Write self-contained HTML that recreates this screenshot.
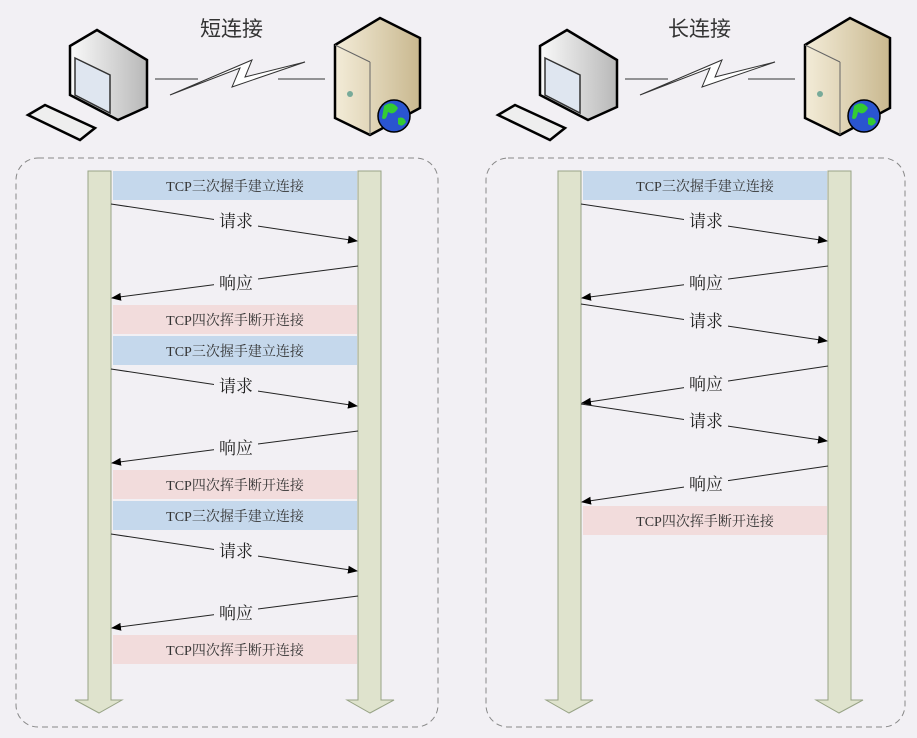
<!DOCTYPE html>
<html><head><meta charset="utf-8"><style>
body{margin:0;background:#f2f0f4;}
svg{display:block}
text{font-family:"Liberation Serif","Noto Serif CJK SC",serif;}
.t{font-family:"Liberation Sans","Noto Sans CJK SC",sans-serif;}
</style></head><body>
<svg width="917" height="738" viewBox="0 0 917 738">
<defs>
<marker id="ar" markerWidth="10" markerHeight="8" refX="9" refY="4" orient="auto" markerUnits="userSpaceOnUse"><path d="M0,0 L10,4 L0,8 z" fill="#000"/></marker>
<linearGradient id="sv" x1="0" x2="1"><stop offset="0" stop-color="#f3ecd8"/><stop offset="1" stop-color="#c9b88f"/></linearGradient>
<linearGradient id="pc" x1="0" x2="1"><stop offset="0" stop-color="#fafafa"/><stop offset="1" stop-color="#b8b8b8"/></linearGradient>
<g id="icons">
 <!-- computer -->
 <path d="M70,46 L97,30 L147,60 L147,107 L118,120 L70,95 Z" fill="url(#pc)" stroke="#000" stroke-width="2.5"/>
 <path d="M75,58 L110,75 L110,113 L75,95 Z" fill="#dfe6f0" stroke="#333" stroke-width="1.5"/>
 <path d="M28,115 L45,105 L95,128 L80,140 Z" fill="#eee" stroke="#000" stroke-width="2.5"/>
 <line x1="155" y1="79" x2="198" y2="79" stroke="#333" stroke-width="1"/>
 <path d="M170,95 L240,68 L232,87 L305,62 L245,77 L252,60 Z" fill="#fff" stroke="#333" stroke-width="1"/>
 <line x1="278" y1="79" x2="325" y2="79" stroke="#333" stroke-width="1"/>
 <!-- server -->
 <path d="M335,45 L380,18 L420,38 L420,108 L370,135 L335,118 Z" fill="url(#sv)" stroke="#000" stroke-width="2.5"/>
 <line x1="370" y1="62" x2="370" y2="135" stroke="#666" stroke-width="1"/>
 <line x1="370" y1="62" x2="335" y2="45" stroke="#666" stroke-width="1"/>
 <circle cx="350" cy="94" r="3" fill="#7a9" />
 <circle cx="394" cy="116" r="16" fill="#2a55d0" stroke="#000" stroke-width="1.5"/>
 <path d="M384,106 q8,-6 14,2 q-4,8 -10,4 q-2,10 -6,6z M398,118 q6,-2 8,4 q-4,6 -8,2z" fill="#3c3"/>
</g>
</defs>

<text x="200" y="36" class="t" font-size="21" fill="#333">短连接</text>
<text x="668" y="36" class="t" font-size="21" fill="#333">长连接</text>
<use href="#icons"/>
<use href="#icons" transform="translate(470,0)"/>

<rect x="16" y="158" width="422" height="569" rx="22" fill="none" stroke="#888" stroke-dasharray="6,4" stroke-width="1"/>
<rect x="486" y="158" width="419" height="569" rx="22" fill="none" stroke="#888" stroke-dasharray="6,4" stroke-width="1"/>

<g fill="#dfe3cd" stroke="#98a386" stroke-width="1">
<path d="M88,171 H111 V700 H122 L99,713 L75,700 H88 Z"/>
<path d="M358,171 H381 V700 H394 L370,713 L347,700 H358 Z"/>
<path d="M558,171 H581 V700 H593 L569,713 L546,700 H558 Z"/>
<path d="M828,171 H851 V700 H863 L839,713 L816,700 H828 Z"/>
</g>

<g font-size="14" fill="#333" text-anchor="middle">
<rect x="113" y="171" width="244" height="29" fill="#c5d8ec"/><text x="235" y="191">TCP三次握手建立连接</text>
<rect x="113" y="305" width="244" height="29" fill="#f2dcdc"/><text x="235" y="325">TCP四次挥手断开连接</text>
<rect x="113" y="336" width="244" height="29" fill="#c5d8ec"/><text x="235" y="356">TCP三次握手建立连接</text>
<rect x="113" y="470" width="244" height="29" fill="#f2dcdc"/><text x="235" y="490">TCP四次挥手断开连接</text>
<rect x="113" y="501" width="244" height="29" fill="#c5d8ec"/><text x="235" y="521">TCP三次握手建立连接</text>
<rect x="113" y="635" width="244" height="29" fill="#f2dcdc"/><text x="235" y="655">TCP四次挥手断开连接</text>
<rect x="583" y="171" width="244" height="29" fill="#c5d8ec"/><text x="705" y="191">TCP三次握手建立连接</text>
<rect x="583" y="506" width="244" height="29" fill="#f2dcdc"/><text x="705" y="526">TCP四次挥手断开连接</text>
</g>

<g stroke="#222" stroke-width="1" marker-end="url(#ar)">
<line x1="111" y1="204" x2="357" y2="241"/>
<line x1="358" y1="266" x2="112" y2="298"/>
<line x1="111" y1="369" x2="357" y2="406"/>
<line x1="358" y1="431" x2="112" y2="463"/>
<line x1="111" y1="534" x2="357" y2="571"/>
<line x1="358" y1="596" x2="112" y2="628"/>
<line x1="581" y1="204" x2="827" y2="241"/>
<line x1="828" y1="266" x2="582" y2="298"/>
<line x1="581" y1="304" x2="827" y2="341"/>
<line x1="828" y1="366" x2="582" y2="403"/>
<line x1="581" y1="404" x2="827" y2="441"/>
<line x1="828" y1="466" x2="582" y2="502"/>
</g>
<g font-size="17" class="t" fill="#222" text-anchor="middle">
<g fill="#f2f0f4" stroke="none">
<rect x="214" y="210" width="44" height="20"/><rect x="214" y="272" width="44" height="20"/>
<rect x="214" y="375" width="44" height="20"/><rect x="214" y="437" width="44" height="20"/>
<rect x="214" y="540" width="44" height="20"/><rect x="214" y="602" width="44" height="20"/>
<rect x="684" y="210" width="44" height="20"/><rect x="684" y="272" width="44" height="20"/>
<rect x="684" y="310" width="44" height="20"/><rect x="684" y="373" width="44" height="20"/>
<rect x="684" y="410" width="44" height="20"/><rect x="684" y="473" width="44" height="20"/>
</g>
<text x="236" y="227">请求</text><text x="236" y="289">响应</text>
<text x="236" y="392">请求</text><text x="236" y="454">响应</text>
<text x="236" y="557">请求</text><text x="236" y="619">响应</text>
<text x="706" y="227">请求</text><text x="706" y="289">响应</text>
<text x="706" y="327">请求</text><text x="706" y="390">响应</text>
<text x="706" y="427">请求</text><text x="706" y="490">响应</text>
</g>
</svg>
</body></html>
